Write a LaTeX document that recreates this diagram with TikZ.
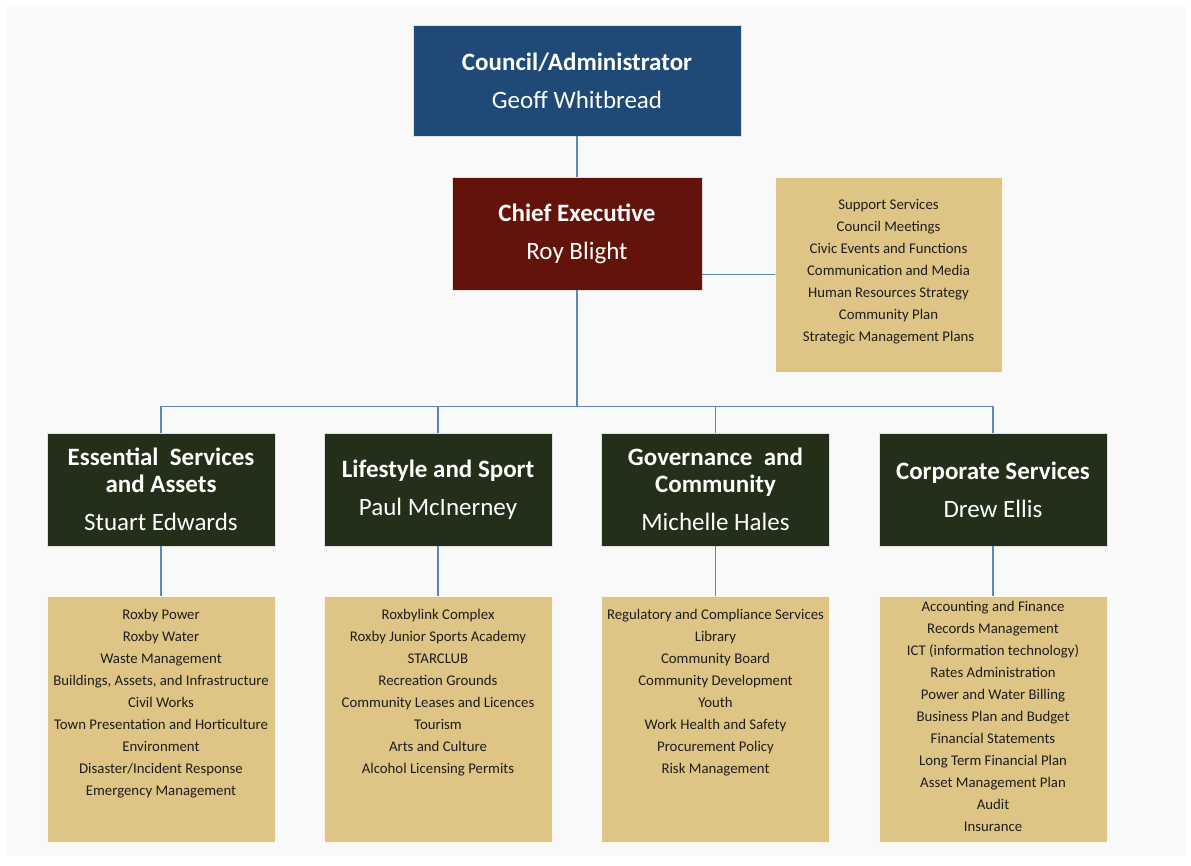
\documentclass[tikz,border=0pt]{standalone}
\usepackage{fontspec}
\setmainfont{Carlito}
\usepackage{xcolor}
\usepackage{tikz}
\usetikzlibrary{positioning}

\definecolor{pagegray}{HTML}{F9F9FA}
\definecolor{councilblue}{HTML}{1F4A77}
\definecolor{ceored}{HTML}{64130A}
\definecolor{deptgreen}{HTML}{232F18}
\definecolor{tan}{HTML}{DFC585}
\definecolor{linkblue}{HTML}{5A88BA}
\definecolor{listink}{HTML}{1E1E1E}

\begin{document}
\begin{tikzpicture}[
    x=1pt,
    y=1pt,
    auto,
    headbox/.style={
        rectangle,
        draw=white!75!gray,
        line width=0.6pt,
        text=white,
        align=center,
        inner sep=0pt,
        font=\fontsize{25}{27}\selectfont
    },
    topbox/.style={
        headbox,
        fill=councilblue,
        minimum width=328pt,
        minimum height=111pt
    },
    ceobox/.style={
        headbox,
        fill=ceored,
        minimum width=250pt,
        minimum height=113pt
    },
    deptbox/.style={
        headbox,
        fill=deptgreen,
        minimum width=228pt,
        minimum height=113pt
    },
    listbox/.style={
        rectangle,
        fill=tan,
        draw=white!85!tan,
        line width=0.6pt,
        minimum width=228pt,
        minimum height=246pt,
        inner sep=0pt
    },
    listtext/.style={
        align=center,
        inner sep=0pt,
        text=listink,
        font=\fontsize{14.8}{22}\selectfont
    },
    line/.style={
        draw=linkblue,
        line width=1.6pt
    }
]

% Page
\useasboundingbox (0,0) rectangle (1191,-865);
\fill [white] (0,0) rectangle (1191,-865);
\fill [pagegray] (7,-6) rectangle (1185,-856);

% Top of the chart
\node [topbox] (council) at (577,-80.5) {\textbf{Council/Administrator}\\[11pt]Geoff Whitbread};
\node [ceobox, below of=council, node distance=153pt] (ceo) {\textbf{Chief Executive}\\[11pt]Roy Blight};
\node [listbox, right of=ceo, node distance=311.5pt, yshift=-41pt, minimum width=227pt, minimum height=195pt] (support) {};
\node [listtext, below=22pt of support.north] (supporttext) {Support Services\\Council Meetings\\Civic Events and Functions\\Communication and Media\\Human Resources Strategy\\Community Plan\\Strategic Management Plans};

% Departments
\node [deptbox, below of=ceo, node distance=256pt, xshift=-416pt] (ess) {\textbf{Essential\ \ Services}\\\textbf{and Assets}\\[11pt]Stuart Edwards};
\node [deptbox, below of=ceo, node distance=256pt, xshift=-139pt] (life) {\textbf{Lifestyle and Sport}\\[11pt]Paul McInerney};
\node [deptbox, below of=ceo, node distance=256pt, xshift=138.5pt] (gov) {\textbf{Governance\ \ and}\\\textbf{Community}\\[11pt]Michelle Hales};
\node [deptbox, below of=ceo, node distance=256pt, xshift=416pt] (corp) {\textbf{Corporate Services}\\[11pt]Drew Ellis};

% Service lists under each department
\node [listbox, below of=ess, node distance=229.5pt] (esslist) {};
\node [listbox, below of=life, node distance=229.5pt] (lifelist) {};
\node [listbox, below of=gov, node distance=229.5pt] (govlist) {};
\node [listbox, below of=corp, node distance=229.5pt] (corplist) {};

\node [listtext, below=13pt of esslist.north] (esstext) {Roxby Power\\Roxby Water\\Waste Management\\Buildings, Assets, and Infrastructure\\Civil Works\\Town Presentation and Horticulture\\Environment\\Disaster/Incident Response\\Emergency Management};
\node [listtext, below=13pt of lifelist.north] (lifetext) {Roxbylink Complex\\Roxby Junior Sports Academy\\STARCLUB\\Recreation Grounds\\Community Leases and Licences\\Tourism\\Arts and Culture\\Alcohol Licensing Permits};
\node [listtext, below=13pt of govlist.north] (govtext) {Regulatory and Compliance Services\\Library\\Community Board\\Community Development\\Youth\\Work Health and Safety\\Procurement Policy\\Risk Management};
\node [listtext, below=5pt of corplist.north] (corptext) {Accounting and Finance\\Records Management\\ICT (information technology)\\Rates Administration\\Power and Water Billing\\Business Plan and Budget\\Financial Statements\\Long Term Financial Plan\\Asset Management Plan\\Audit\\Insurance};

% Paths
\path [line] (council) -- (ceo);
\path [line] (support.west) -- (support.west -| ceo.east);
\path [line] (ceo.south) -- ++(0,-116pt) coordinate (bus);
\foreach \dept in {ess,life,gov,corp} {
    \path [line] (bus) -| (\dept.north);
    \path [line] (\dept) -- (\dept list);
}

\end{tikzpicture}
\end{document}
